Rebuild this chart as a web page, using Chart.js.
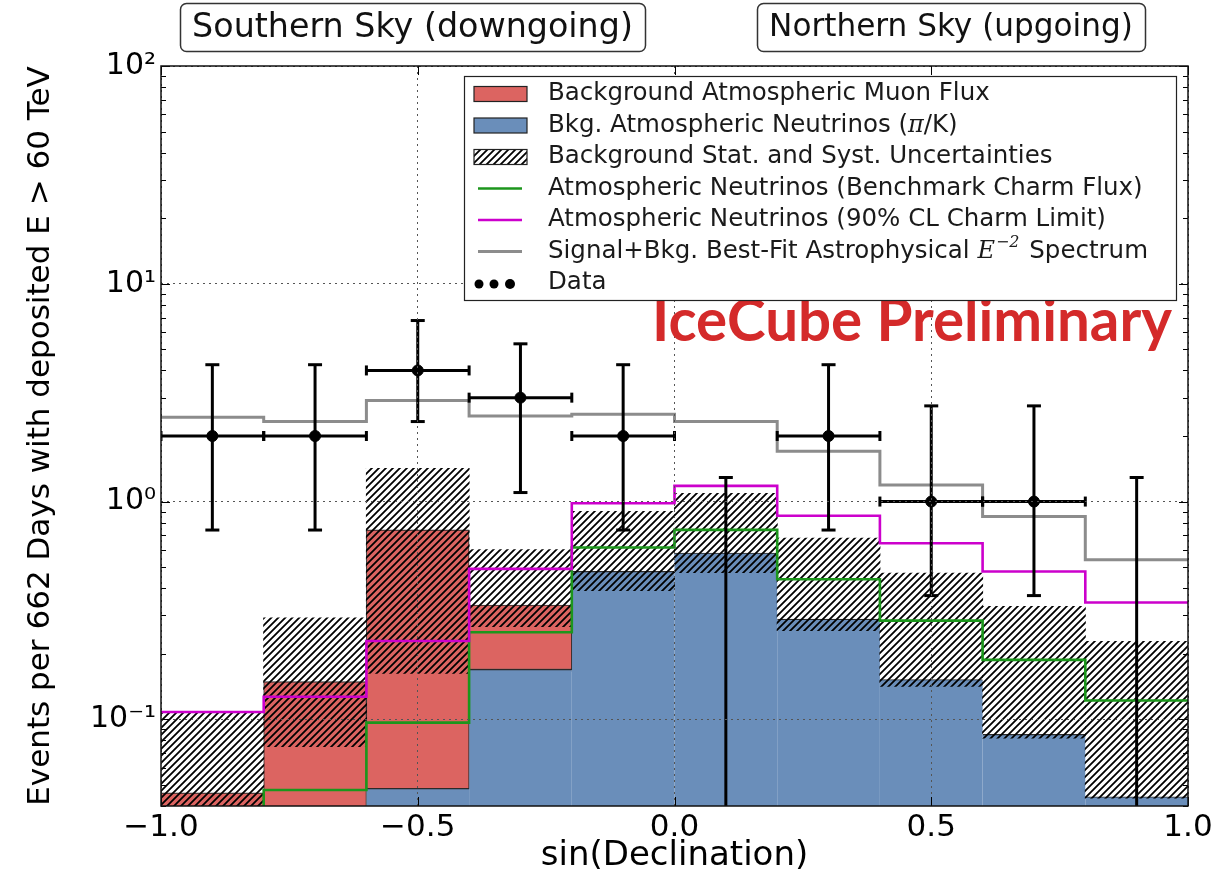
<!DOCTYPE html>
<html><head><meta charset="utf-8">
<script src="https://cdn.jsdelivr.net/npm/chart.js@4.4.1/dist/chart.umd.min.js"></script>
<style>
html,body{margin:0;padding:0;background:#fff;}
canvas{display:block;}
</style></head><body>
<canvas id="c" width="1230" height="879" style="width:1230px;height:879px"></canvas>
<script>
// ---- data ----
const binEdges = [-1.0,-0.8,-0.6,-0.4,-0.2,0.0,0.2,0.4,0.6,0.8,1.0];
const binCenters = [-0.9,-0.7,-0.5,-0.3,-0.1,0.1,0.3,0.5,0.7,0.9];
const binHalfWidth = 0.1;
const atmNeutrinos = [0.005,0.012,0.048,0.169,0.477,0.579,0.288,0.152,0.085,0.044];
const atmMuons = [0.041,0.137,0.693,0.166,0,0,0,0,0,0];
const bandLow = [0.02,0.075,0.163,0.267,0.390,0.472,0.256,0.142,0.082,0.0435];
const bandHigh = [0.107,0.292,1.42,0.600,0.900,1.09,0.679,0.469,0.330,0.2275];
const charmBenchmark = [0.03,0.0474,0.0966,0.251,0.615,0.741,0.440,0.284,0.1875,0.122];
const charmLimit = [0.108,0.127,0.229,0.491,0.983,1.18,0.860,0.644,0.477,0.344];
const bestFit = [2.44,2.33,2.91,2.47,2.52,2.33,1.70,1.19,0.853,0.540];
const dataCounts = [2,2,4,3,2,0,2,1,1,0];
const dataErrLow = [0.74,0.74,2.33,1.10,0.74,0,0.74,0.37,0.37,0];
const dataErrHigh = [4.25,4.25,6.78,5.30,4.25,1.29,4.25,2.75,2.75,1.29];
const xTickValues = [-1.0,-0.5,0.0,0.5,1.0];
const xTickLabels = ['\u22121.0','\u22120.5','0.0','0.5','1.0'];
const yTickValues = [0.1,1,10,100];
const yTickLabels = ['10\u207B\u00B9','10\u2070','10\u00B9','10\u00B2'];
const yMin = 0.04, yMax = 100;

// ---- styles ----
const FONT = "'DejaVu Sans', sans-serif";
const RED = '#dc6461', BLUE = '#6a8eba', GREEN = '#1c961c', MAGENTA = '#cc00cc', GRAY = '#8c8c8c';
Chart.defaults.font.family = FONT;
const ctx = document.getElementById('c').getContext('2d');

function makeHatch(){
  const s = 7, c = document.createElement('canvas');
  c.width = s; c.height = s;
  const g = c.getContext('2d');
  g.strokeStyle = '#000'; g.lineWidth = 1.8;
  g.beginPath();
  g.moveTo(-1, s+1); g.lineTo(s+1, -1);
  g.moveTo(-s/2-1, s/2+1); g.lineTo(s/2+1, -s/2-1);
  g.moveTo(s/2-1, s*1.5+1); g.lineTo(s*1.5+1, s/2-1);
  g.stroke();
  return ctx.createPattern(c, 'repeat');
}
const HATCH = makeHatch();

const stepPoints = vals => binEdges.map((x,i)=>({x, y: vals[Math.min(i, vals.length-1)]}));
const blueData = binCenters.map((x,i)=>({x, y:[1e-4, atmNeutrinos[i]]}));
const redData = binCenters.map((x,i)=>({x, y:[atmNeutrinos[i], atmNeutrinos[i]+atmMuons[i]], m: atmMuons[i]})).filter(d=>d.m>0);
const bandData = binCenters.map((x,i)=>({x, y:[bandLow[i], bandHigh[i]]}));
const pointData = binCenters.map((x,i)=>({x, y: dataCounts[i]>0 ? dataCounts[i] : null}));

const barCommon = {type:'bar', barPercentage:1, categoryPercentage:1, grouped:false, clip:0};
const lineCommon = {type:'line', stepped:true, pointRadius:0, fill:false, tension:0, borderWidth:2.6};

const datasets = [
  {...barCommon, label:'Bkg. Atmospheric Neutrinos ($\u03C0$/K)', data: blueData, backgroundColor: BLUE, borderColor:'#2a2a2a', borderWidth:{top:1.2, left:0, right:0, bottom:0}, borderSkipped:false, inflateAmount:0.6, order:6, legendKind:'box'},
  {...barCommon, label:'Background Atmospheric Muon Flux', data: redData, backgroundColor: RED, borderColor:'#2a2a2a', borderWidth:{top:1.2, left:1, right:1, bottom:1.2}, borderSkipped:false, order:5, legendKind:'box'},
  {...barCommon, label:'Background Stat. and Syst. Uncertainties', data: bandData, backgroundColor: HATCH, borderWidth:0, inflateAmount:0.5, order:4, legendKind:'box'},
  {...lineCommon, label:'Atmospheric Neutrinos (Benchmark Charm Flux)', data: stepPoints(charmBenchmark), borderColor: GREEN, order:3, legendKind:'line'},
  {...lineCommon, label:'Atmospheric Neutrinos (90% CL Charm Limit)', data: stepPoints(charmLimit), borderColor: MAGENTA, order:2, legendKind:'line'},
  {...lineCommon, label:'Signal+Bkg. Best-Fit Astrophysical $E$^{\u22122} Spectrum', data: stepPoints(bestFit), borderColor: GRAY, borderWidth:3, order:1, legendKind:'line'},
  {type:'scatter', label:'Data', data: pointData, backgroundColor:'#000', borderColor:'#000', pointRadius:5.5, clip:0, order:0, legendKind:'dots'}
];
const legendOrder = [1,0,2,3,4,5,6];

function richParts(label){
  const out = [];
  label.split(/(\$[^$]+\$|\^\{[^}]+\})/).forEach(s=>{
    if (!s) return;
    if (s[0]==='$') out.push({t:s.slice(1,-1), kind:'math'});
    else if (s[0]==='^') out.push({t:s.slice(2,-1), kind:'sup'});
    else out.push({t:s, kind:'text'});
  });
  return out;
}

function roundRect(c, x, y, w, h, r){
  c.beginPath();
  c.moveTo(x+r, y); c.arcTo(x+w, y, x+w, y+h, r); c.arcTo(x+w, y+h, x, y+h, r);
  c.arcTo(x, y+h, x, y, r); c.arcTo(x, y, x+w, y, r); c.closePath();
}

const decorPlugin = {
  id:'decor',
  afterDatasetsDraw(chart){
    const {ctx:c, chartArea:a, scales:{x, y}} = chart;
    c.save();
    c.beginPath(); c.rect(a.left, a.top, a.width, a.height); c.clip();
    c.strokeStyle = '#000'; c.lineWidth = 3; c.lineCap = 'butt';
    const seg = (x0,y0,x1,y1)=>{ c.beginPath(); c.moveTo(x0,y0); c.lineTo(x1,y1); c.stroke(); };
    binCenters.forEach((cx,i)=>{
      const px = x.getPixelForValue(cx);
      const hi = y.getPixelForValue(dataErrHigh[i]);
      const hasLo = dataErrLow[i] > 0;
      const lo = hasLo ? y.getPixelForValue(dataErrLow[i]) : a.bottom + 5;
      seg(px, hi, px, lo);
      seg(px-7, hi, px+7, hi);
      if (hasLo) seg(px-7, lo, px+7, lo);
      if (dataCounts[i] > 0){
        const py = y.getPixelForValue(dataCounts[i]);
        const x0 = x.getPixelForValue(cx-binHalfWidth), x1 = x.getPixelForValue(cx+binHalfWidth);
        seg(x0, py, x1, py);
        seg(x0, py-5, x0, py+5); seg(x1, py-5, x1, py+5);
      }
    });
    c.restore();
  },
  afterDraw(chart){
    const {ctx:c, chartArea:a, scales:{x, y}} = chart;
    c.save();
    // inward ticks
    c.strokeStyle = '#000'; c.lineWidth = 1;
    const seg = (x0,y0,x1,y1)=>{ c.beginPath(); c.moveTo(x0,y0); c.lineTo(x1,y1); c.stroke(); };
    for (let e=-2; e<=2; e++){
      for (let m=1; m<=9; m++){
        const v = m*Math.pow(10,e);
        if (v < yMin*0.999 || v > yMax*1.001) continue;
        const py = Math.round(y.getPixelForValue(v))+0.5;
        const len = m===1 ? 9 : 5;
        seg(a.left, py, a.left+len, py);
        seg(a.right-len, py, a.right, py);
      }
    }
    xTickValues.forEach(v=>{
      const px = Math.round(x.getPixelForValue(v))+0.5;
      seg(px, a.bottom, px, a.bottom-9);
      seg(px, a.top, px, a.top+9);
    });
    // frame
    c.lineWidth = 1.5; c.strokeStyle = '#111';
    c.strokeRect(a.left, a.top, a.right-a.left, a.bottom-a.top);

    // IceCube Preliminary
    c.fillStyle = '#d42a2a';
    let fs = 44;
    c.font = `bold ${fs}px Lato, 'Open Sans', sans-serif`;
    fs = fs * 520 / c.measureText('IceCube Preliminary').width;
    c.font = `bold ${fs}px Lato, 'Open Sans', sans-serif`;
    c.textBaseline = 'alphabetic'; c.textAlign = 'left';
    c.fillText('IceCube Preliminary', 652, 341);

    // legend
    const L = {x:464, y:76, w:712, h:224};
    c.fillStyle = '#fff'; c.fillRect(L.x, L.y, L.w, L.h);
    c.strokeStyle = '#222'; c.lineWidth = 1.2; c.strokeRect(L.x+0.5, L.y+0.5, L.w, L.h);
    const ds = chart.data.datasets;
    legendOrder.forEach((di, row)=>{
      const d = ds[di];
      const yc = 94 + row*31.5;
      if (d.legendKind === 'box'){
        c.fillStyle = d.backgroundColor; c.fillRect(474, yc-7.5, 53, 15);
        c.strokeStyle = '#222'; c.lineWidth = 1.2; c.strokeRect(474, yc-7.5, 53, 15);
      } else if (d.legendKind === 'line'){
        c.strokeStyle = d.borderColor; c.lineWidth = d.borderWidth;
        seg(478, yc, 522, yc);
      } else {
        c.fillStyle = '#000';
        [[479,4.5],[494,4.5],[510,5]].forEach(([px,r])=>{ c.beginPath(); c.arc(px, yc+1, r, 0, Math.PI*2); c.fill(); });
      }
      let tx = 548;
      c.fillStyle = '#1a1a1a'; c.textBaseline = 'middle'; c.textAlign = 'left';
      richParts(d.label).forEach(p=>{
        if (p.kind === 'math'){ c.font = `italic 24px 'DejaVu Serif', serif`; c.fillText(p.t, tx, yc); }
        else if (p.kind === 'sup'){ c.font = `italic 16px 'DejaVu Serif', serif`; c.fillText(p.t, tx+1, yc-9); tx += 3; }
        else { c.font = `24.5px ${FONT}`; c.fillText(p.t, tx, yc); }
        tx += c.measureText(p.t).width;
      });
    });

    // header boxes
    const boxes = [
      {x:180, y:3, w:465, h:48, t:'Southern Sky (downgoing)'},
      {x:757, y:3, w:388, h:48, t:'Northern Sky (upgoing)'}
    ];
    boxes.forEach(b=>{
      roundRect(c, b.x+0.5, b.y+0.5, b.w, b.h, 6);
      c.fillStyle = '#fff'; c.fill();
      c.strokeStyle = '#333'; c.lineWidth = 1.5; c.stroke();
      c.font = `30px ${FONT}`;
      const hfs = Math.min(34, 30 * (b.w - 24) / c.measureText(b.t).width);
      c.fillStyle = '#111'; c.font = `${hfs}px ${FONT}`; c.textAlign = 'center'; c.textBaseline = 'middle';
      c.fillText(b.t, b.x + b.w/2, b.y + b.h/2 + 1);
    });
    c.restore();
  }
};

new Chart(ctx, {
  type:'bar',
  data:{datasets},
  options:{
    responsive:false, animation:false, events:[],
    layout:{padding:{top:66, right:42, left:0, bottom:0}},
    plugins:{legend:{display:false}, tooltip:{enabled:false}},
    scales:{
      x:{
        type:'linear', min:-1, max:1, offset:false,
        afterBuildTicks: s => { s.ticks = xTickValues.map(v=>({value:v})); },
        ticks:{callback:(v,i)=>xTickLabels[i], font:{family:FONT, size:31}, color:'#000', padding:3, maxRotation:0, autoSkip:false},
        grid:{color:'#555', lineWidth:1, drawTicks:false, offset:false, z:1},
        border:{display:false, dash:[2,4]},
        title:{display:true, text:'sin(Declination)', font:{family:FONT, size:34}, color:'#000', padding:{top:0, bottom:2}},
        afterFit: s => { s.height = 73; }
      },
      y:{
        type:'logarithmic', min:yMin, max:yMax,
        afterBuildTicks: s => { s.ticks = yTickValues.map(v=>({value:v})); },
        ticks:{callback:(v,i)=>yTickLabels[i], font:{family:FONT, size:30}, color:'#000', padding:5, autoSkip:false},
        grid:{color:'#555', lineWidth:1, drawTicks:false, z:1},
        border:{display:false, dash:[2,4]},
        title:{display:true, text:'Events per 662 Days with deposited E > 60 TeV', font:{family:FONT, size:31}, color:'#000', padding:{top:22, bottom:0}},
        afterFit: s => { s.width = 161; }
      }
    }
  },
  plugins:[decorPlugin]
});
</script>
</body></html>
